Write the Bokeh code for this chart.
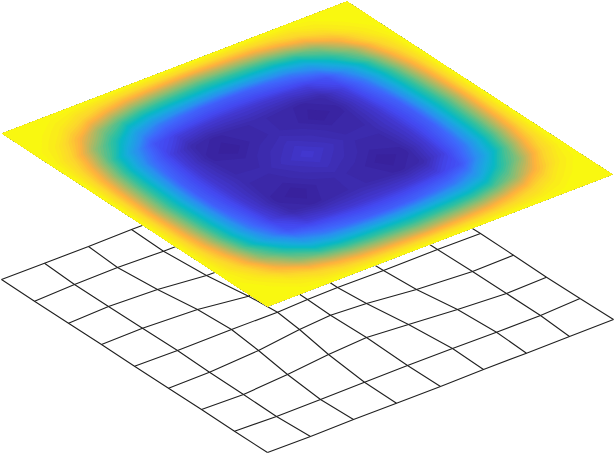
import numpy as np
from bokeh.plotting import figure
from bokeh.models import Range1d
from bokeh.embed import file_html
from bokeh.resources import INLINE

# deformed mesh, nodes by (i, j)
mesh_x = [
    [1, 44, 88, 131, 174, 217, 260, 303, 347],
    [34, 74, 117, 163, 207, 250, 293, 336, 380],
    [68, 108, 157, 206, 250, 293, 335, 372, 413],
    [101, 142, 197, 248, 275, 308, 350, 404, 446],
    [134, 177, 231, 277, 307, 337, 383, 437, 480],
    [168, 209, 258, 299, 330, 366, 416, 472, 513],
    [201, 243, 287, 328, 366, 408, 457, 506, 546],
    [234, 276, 320, 364, 407, 452, 496, 540, 579.5],
    [267, 310, 353, 396, 440, 483, 526, 569, 613],
]
mesh_y = [
    [279, 262.7, 246, 229, 213, 197, 180, 163, 147],
    [300.7, 284, 267, 250.7, 234, 218, 201, 185, 168],
    [322.7, 306, 289, 275, 259, 243, 226, 206, 190],
    [344, 327.7, 309, 295.7, 278, 268, 250, 228, 212],
    [365.7, 350, 329, 311.7, 299, 287, 270, 249, 233],
    [387.7, 371.7, 350, 329, 314.7, 303, 289, 271, 254.7],
    [409, 394, 374, 354, 337, 324, 309, 293, 276.7],
    [430.7, 416, 399, 381.7, 365, 348, 331.7, 315, 298],
    [452, 436, 419, 402.7, 386, 369, 352.7, 336, 319],
]

# surface corners
corner_left = (1.5, 133)
corner_bottom = (267, 306)
corner_top = (346.5, 1)

# surface field read on a 17 x 17 grid
field = [
    [1.00,1.00,1.00,1.00,1.00,1.00,1.00,1.00,1.00,1.00,1.00,1.00,1.00,1.00,1.00,1.00,1.00],
    [1.00,.99,.95,.89,.84,.80,.78,.77,.76,.77,.78,.80,.84,.89,.95,.99,1.00],
    [1.00,.95,.84,.72,.64,.59,.57,.56,.55,.56,.57,.59,.64,.72,.84,.95,1.00],
    [1.00,.89,.72,.59,.42,.33,.29,.26,.25,.26,.29,.33,.42,.59,.72,.89,1.00],
    [1.00,.84,.64,.42,.22,.15,.13,.12,.12,.12,.13,.15,.22,.42,.64,.84,1.00],
    [1.00,.80,.59,.33,.15,.05,.025,.04,.05,.04,.025,.05,.15,.33,.59,.80,1.00],
    [1.00,.78,.57,.29,.13,.025,.00,.035,.05,.035,.00,.025,.13,.29,.57,.78,1.00],
    [1.00,.77,.56,.26,.12,.04,.035,.06,.085,.06,.035,.04,.12,.26,.56,.77,1.00],
    [1.00,.76,.55,.25,.12,.05,.05,.085,.12,.085,.05,.05,.12,.25,.55,.76,1.00],
    [1.00,.77,.56,.26,.12,.04,.035,.06,.085,.06,.035,.04,.12,.26,.56,.77,1.00],
    [1.00,.78,.57,.29,.13,.025,.00,.035,.05,.035,.00,.025,.13,.29,.57,.78,1.00],
    [1.00,.80,.59,.33,.15,.05,.025,.04,.05,.04,.025,.05,.15,.33,.59,.80,1.00],
    [1.00,.84,.64,.42,.22,.15,.13,.12,.12,.12,.13,.15,.22,.42,.64,.84,1.00],
    [1.00,.89,.72,.59,.42,.33,.29,.26,.25,.26,.29,.33,.42,.59,.72,.89,1.00],
    [1.00,.95,.84,.72,.64,.59,.57,.56,.55,.56,.57,.59,.64,.72,.84,.95,1.00],
    [1.00,.99,.95,.89,.84,.80,.78,.77,.76,.77,.78,.80,.84,.89,.95,.99,1.00],
    [1.00,1.00,1.00,1.00,1.00,1.00,1.00,1.00,1.00,1.00,1.00,1.00,1.00,1.00,1.00,1.00,1.00],
]

# colour map anchors
cmap_pos = [0.0, .06, .12, .18, .28, .38, .48, .55, .62, .70, .78, .83, .90, 1.0]
cmap_hex = ["#37209a", "#3d2cb0", "#4238d0", "#4448f0", "#3f66fc", "#2a90f0", "#18acdc",
            "#08b8c4", "#30c0a0", "#80bf78", "#d0b455", "#feb03e", "#fcd62c", "#f9fb0e"]
n_levels = 64

levels = np.linspace(-0.001, 1.001, n_levels + 1)
mids = 0.5 * (levels[:-1] + levels[1:])
rgb = np.array([[int(h[k:k + 2], 16) for k in (1, 3, 5)] for h in cmap_hex], float)
palette = ["#%02x%02x%02x" % tuple(int(round(np.interp(m, cmap_pos, rgb[:, c]))) for c in range(3)) for m in mids]

p = figure(width=614, height=454, output_backend="svg", toolbar_location=None,
           x_range=Range1d(0, 614), y_range=Range1d(454, 0),
           min_border=0, outline_line_color=None,
           background_fill_color="white", border_fill_color="white")
p.xaxis.visible = False
p.yaxis.visible = False
p.grid.visible = False

mx, my = np.array(mesh_x, float), np.array(mesh_y, float)
xs = [list(r) for r in mx] + [list(r) for r in mx.T]
ys = [list(r) for r in my] + [list(r) for r in my.T]
p.multi_line(xs, ys, line_color="#202020", line_width=1.1)

z = np.array(field, float)
n = z.shape[0]
u = np.linspace(0, 1, n)
U, V = np.meshgrid(u, u, indexing="ij")  # U: left->bottom, V: left->top
X = corner_left[0] + U * (corner_bottom[0] - corner_left[0]) + V * (corner_top[0] - corner_left[0])
Y = corner_left[1] + U * (corner_bottom[1] - corner_left[1]) + V * (corner_top[1] - corner_left[1])
# nested bands, painted from the lowest level up, so no seams appear between them
for k in range(n_levels):
    if levels[k] < z.max():
        p.contour(X, Y, z, [levels[k], levels[-1]], fill_color=[palette[k]])

open("out.html", "w").write(file_html(p, INLINE))
